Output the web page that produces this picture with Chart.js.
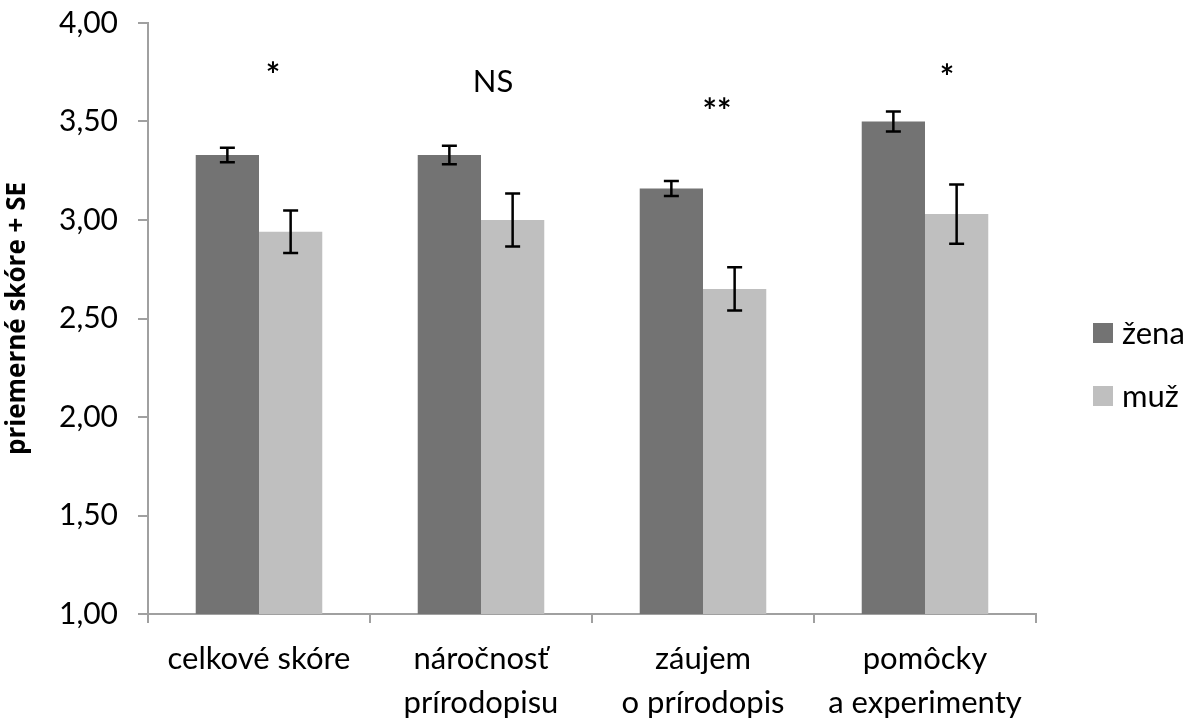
<!DOCTYPE html>
<html>
<head>
<meta charset="utf-8">
<script src="https://cdn.jsdelivr.net/npm/chart.js@4/dist/chart.umd.min.js"></script>
<style>
html,body{margin:0;padding:0;background:#fff;}
#wrap{width:1193px;height:718px;position:relative;}
</style>
</head>
<body>
<div id="wrap"><canvas id="c"></canvas></div>
<script>
// ---- data ----
const categories = [["celkové skóre"], ["náročnosť", "prírodopisu"], ["záujem", "o prírodopis"], ["pomôcky", "a experimenty"]];
const seriesNames = ["žena", "muž"];
const zenaValues = [3.33, 3.33, 3.16, 3.50];
const muzValues = [2.94, 3.00, 2.65, 3.03];
const zenaSE = [0.037, 0.047, 0.038, 0.051];
const muzSE = [0.108, 0.135, 0.11, 0.15];
const sigLabels = ["*", "NS", "**", "*"];
const yTicks = [1.0, 1.5, 2.0, 2.5, 3.0, 3.5, 4.0];

const FONT = "Lato, 'Open Sans', sans-serif";
const colors = ["#737373", "#bfbfbf"];
const axisColor = "#a0a0a0";

const errorBars = {
  id: 'errorBars',
  afterDatasetsDraw(chart) {
    const ctx = chart.ctx;
    const y = chart.scales.y;
    const seList = [zenaSE, muzSE];
    chart.data.datasets.forEach((ds, di) => {
      const meta = chart.getDatasetMeta(di);
      meta.data.forEach((bar, i) => {
        const v = ds.data[i];
        const se = seList[di][i];
        const top = y.getPixelForValue(v + se);
        const bot = y.getPixelForValue(v - se);
        const x = bar.x;
        ctx.save();
        ctx.strokeStyle = '#000';
        ctx.lineWidth = 2.5;
        ctx.beginPath();
        ctx.moveTo(x, top); ctx.lineTo(x, bot);
        ctx.moveTo(x - 7.5, top); ctx.lineTo(x + 7.5, top);
        ctx.moveTo(x - 7.5, bot); ctx.lineTo(x + 7.5, bot);
        ctx.stroke();
        ctx.restore();
      });
    });
  }
};

const sigMarks = {
  id: 'sigMarks',
  afterDraw(chart, args, opts) {
    const ctx = chart.ctx;
    const xs = chart.scales.x, ys = chart.scales.y;
    ctx.save();
    ctx.fillStyle = '#000';
    ctx.textAlign = 'center';
    ctx.textBaseline = 'middle';
    sigLabels.forEach((t, i) => {
      const star = t.startsWith('*');
      ctx.font = (star ? "bold 34px " : "31px ") + FONT;
      const x = xs.getPixelForValue(i) + opts.dx[i];
      const y = ys.getPixelForValue(opts.yv[i]);
      ctx.fillText(t, x, y + (star ? 8 : 0));
    });
    ctx.restore();
  }
};

const customLegend = {
  id: 'customLegend',
  afterDraw(chart) {
    const ctx = chart.ctx;
    const ca = chart.chartArea;
    ctx.save();
    ctx.font = "31px " + FONT;
    ctx.textBaseline = 'middle';
    ctx.textAlign = 'left';
    const cy = [333, 396];
    chart.data.datasets.forEach((ds, i) => {
      ctx.fillStyle = ds.backgroundColor;
      ctx.fillRect(ca.right + 57, cy[i] - 10, 20, 20);
      ctx.fillStyle = '#000';
      ctx.fillText(ds.label, ca.right + 86, cy[i] + 1);
    });
    ctx.restore();
  }
};

new Chart(document.getElementById('c'), {
  type: 'bar',
  data: {
    labels: categories,
    datasets: [
      { label: seriesNames[0], data: zenaValues, backgroundColor: colors[0] },
      { label: seriesNames[1], data: muzValues, backgroundColor: colors[1] }
    ]
  },
  options: {
    responsive: true,
    maintainAspectRatio: false,
    animation: false,
    layout: { padding: { top: 23, right: 157, left: 0, bottom: 0 } },
    datasets: { bar: { categoryPercentage: 0.57, barPercentage: 1.0 } },
    plugins: {
      legend: { display: false },
      tooltip: { enabled: false },
      sigMarks: { dx: [14, 12, 14, 22], yv: [3.77, 3.70, 3.59, 3.76] }
    },
    scales: {
      x: {
        grid: { offset: true, drawOnChartArea: false, drawTicks: true, tickLength: 9, color: axisColor, lineWidth: 2 },
        border: { color: axisColor, width: 2 },
        ticks: { color: '#000', font: { family: FONT, size: 31, lineHeight: 1.42 }, padding: 14, maxRotation: 0, autoSkip: false },
        afterFit(s) { s.height = 104; s.paddingLeft = 0; s.paddingRight = 0; }
      },
      y: {
        min: 1, max: 4,
        afterBuildTicks(s) { s.ticks = yTicks.map(v => ({ value: v })); },
        grid: { drawOnChartArea: false, drawTicks: true, tickLength: 10, color: axisColor, lineWidth: 2 },
        border: { color: axisColor, width: 2 },
        ticks: {
          color: '#000', font: { family: FONT, size: 30 }, padding: 20,
          callback: v => Number(v).toFixed(2).replace('.', ',')
        },
        title: { display: true, text: 'priemerné skóre + SE', color: '#000', font: { family: "'Open Sans', Lato, sans-serif", size: 26, weight: 'bold' }, padding: { top: 2, bottom: 0 } },
        afterFit(s) { s.width = 148; s.paddingTop = 0; s.paddingBottom = 0; }
      }
    }
  },
  plugins: [errorBars, sigMarks, customLegend]
});
</script>
</body>
</html>
